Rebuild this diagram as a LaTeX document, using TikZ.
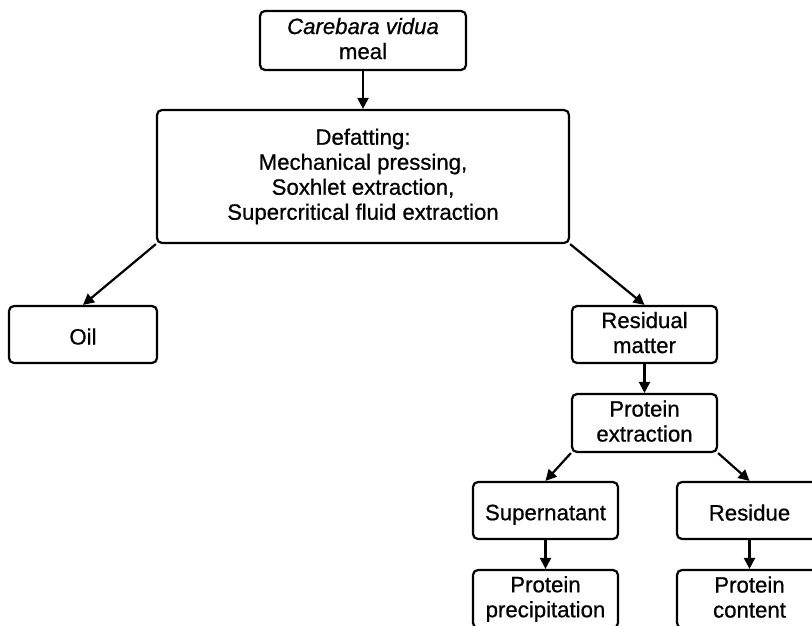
\documentclass[tikz,border=0pt]{standalone}
\usepackage{fontspec}
\setmainfont{Liberation Sans}[FakeBold=0.7]
\usetikzlibrary{arrows.meta}
\newcommand\boxstrut{\rule[-4bp]{0pt}{28bp}}
\begin{document}
\begin{tikzpicture}[x=1bp,y=-1bp,
  box/.style={draw, line width=2.2bp, rounded corners=5bp, align=center, inner sep=0pt,
    font=\fontsize{22.2bp}{25bp}\selectfont,
    execute at begin node=\boxstrut, execute at end node=\boxstrut},
  arr/.style={line width=2.2bp, -{Triangle[length=11bp,width=11bp]}}]
\useasboundingbox (0,0) rectangle (812,626);
\clip (0,0) rectangle (812,626);
\fill[white] (0,0) rectangle (812,626);
\node[box, minimum width=206bp, minimum height=59bp] (meal) at (363,40.5) {\textit{Carebara vidua}\\meal};
\node[box, minimum width=412bp, minimum height=133bp] (def) at (363,176.5) {Defatting:\\Mechanical pressing,\\Soxhlet extraction,\\Supercritical fluid extraction};
\node[box, minimum width=148bp, minimum height=57bp] (oil) at (83,334.5) {Oil};
\node[box, minimum width=145bp, minimum height=57bp] (resid) at (644.5,334.5) {Residual\\matter};
\node[box, minimum width=145bp, minimum height=58bp] (pext) at (644.5,423) {Protein\\extraction};
\node[box, minimum width=145bp, minimum height=57bp] (super) at (545.5,510.5) {Supernatant};
\node[box, minimum width=145bp, minimum height=57bp] (residue) at (749.5,510.5) {Residue};
\node[box, minimum width=145bp, minimum height=58bp] (pprec) at (545.5,599) {Protein\\precipitation};
\node[box, minimum width=145bp, minimum height=58bp] (pcont) at (749.5,599) {Protein\\content};
\draw[arr] (meal.south) -- (def.north);
\draw[arr] (def.south west) -- (oil.north);
\draw[arr] (def.south east) -- (resid.north);
\draw[arr] (resid.south) -- (pext.north);
\draw[arr] (pext.south west) -- (super.north);
\draw[arr] (pext.south east) -- (residue.north);
\draw[arr] (super.south) -- (pprec.north);
\draw[arr] (residue.south) -- (pcont.north);
\end{tikzpicture}
\end{document}
